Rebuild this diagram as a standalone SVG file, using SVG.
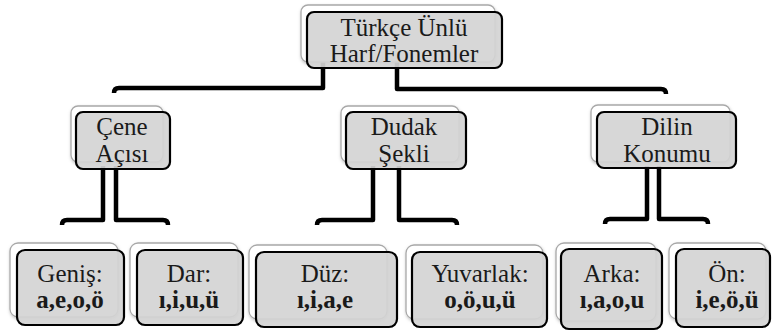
<svg xmlns="http://www.w3.org/2000/svg" width="772" height="333" viewBox="0 0 772 333">
  <defs>
    <filter id="soft" x="-10%" y="-10%" width="125%" height="130%">
      <feDropShadow dx="0.5" dy="1.5" stdDeviation="1.5" flood-color="#000" flood-opacity="0.25"/>
    </filter>
  </defs>
  <style>
    .back { fill: #ffffff; stroke: #a8a8a8; stroke-width: 1.3; filter: url(#soft); }
    .front { fill: #d4d4d4; fill-opacity: 0.92; stroke: #000; stroke-width: 2.2; }
    .t { font-family: "Liberation Serif", "Times New Roman", Times, serif; font-size: 25px; fill: #1a1a1a; text-anchor: middle; }
    .b { font-weight: bold; }
    .wire { fill: none; stroke: #000; stroke-width: 4.5; stroke-linejoin: round; stroke-linecap: butt; }
  </style>
  <rect width="772" height="333" fill="#ffffff"/>

  <!-- connectors -->
  <g id="connectors">
    <path class="wire" d="M114,93 Q114,88 119,88 L323,88 L323,60"/>
    <path class="wire" d="M397,60 L397,89 L661,89 Q666,89 666,94"/>
    <path class="wire" d="M62,225 Q62,220 67,220 L103,220 L103,166"/>
    <path class="wire" d="M116,166 L116,220 L163,220 Q168,220 168,225"/>
    <path class="wire" d="M317,225 Q317,220 322,220 L373,220 L373,166"/>
    <path class="wire" d="M399,166 L399,220 L452,220 Q457,220 457,225"/>
    <path class="wire" d="M605,224 Q605,219 610,219 L647,219 L647,166"/>
    <path class="wire" d="M659,166 L659,219 L703,219 Q708,219 708,224"/>
  </g>

  <!-- root -->
  <g id="root">
    <rect class="back" x="301" y="5" width="194" height="57" rx="7"/>
    <rect class="front" x="307" y="12" width="195" height="56" rx="7"/>
    <text class="t" x="404" y="36">Türkçe Ünlü</text>
    <text class="t" x="404" y="62">Harf/Fonemler</text>
  </g>

  <!-- second level -->
  <g id="cene">
    <rect class="back" x="71" y="106" width="92" height="56" rx="7"/>
    <rect class="front" x="76" y="112" width="94" height="57" rx="7"/>
    <text class="t" x="122" y="135">Çene</text>
    <text class="t" x="122" y="162">Açısı</text>
  </g>
  <g id="dudak">
    <rect class="back" x="341" y="106" width="118" height="56" rx="7"/>
    <rect class="front" x="346" y="112" width="120" height="57" rx="7"/>
    <text class="t" x="404" y="135">Dudak</text>
    <text class="t" x="404" y="162">Şekli</text>
  </g>
  <g id="dilin">
    <rect class="back" x="591" y="105" width="139" height="57" rx="7"/>
    <rect class="front" x="597" y="112" width="139" height="56" rx="7"/>
    <text class="t" x="667" y="135">Dilin</text>
    <text class="t" x="667" y="162">Konumu</text>
  </g>

  <!-- leaves -->
  <g id="genis">
    <rect class="back" x="10" y="243" width="108" height="74" rx="8"/>
    <rect class="front" x="17" y="250" width="107" height="75" rx="8"/>
    <text class="t" x="70" y="282">Geniş:</text>
    <text class="t b" x="70" y="308">a,e,o,ö</text>
  </g>
  <g id="dar">
    <rect class="back" x="130" y="243" width="108" height="74" rx="8"/>
    <rect class="front" x="137" y="250" width="106" height="75" rx="8"/>
    <text class="t" x="189" y="282">Dar:</text>
    <text class="t b" x="189" y="308">ı,i,u,ü</text>
  </g>
  <g id="duz">
    <rect class="back" x="249" y="245" width="138" height="74" rx="8"/>
    <rect class="front" x="256" y="252" width="141" height="75" rx="8"/>
    <text class="t" x="325" y="282">Düz:</text>
    <text class="t b" x="325" y="308">ı,i,a,e</text>
  </g>
  <g id="yuvarlak">
    <rect class="back" x="406" y="245" width="137" height="74" rx="8"/>
    <rect class="front" x="412" y="252" width="135" height="75" rx="8"/>
    <text class="t" x="480" y="282">Yuvarlak:</text>
    <text class="t b" x="480" y="308">o,ö,u,ü</text>
  </g>
  <g id="arka">
    <rect class="back" x="556" y="243" width="100" height="78" rx="8"/>
    <rect class="front" x="561" y="249" width="101" height="80" rx="8"/>
    <text class="t" x="612" y="282">Arka:</text>
    <text class="t b" x="612" y="308">ı,a,o,u</text>
  </g>
  <g id="on">
    <rect class="back" x="669" y="243" width="97" height="76" rx="8"/>
    <rect class="front" x="676" y="249" width="94" height="78" rx="8"/>
    <text class="t" x="727" y="282">Ön:</text>
    <text class="t b" x="727" y="308">i,e,ö,ü</text>
  </g>
</svg>
